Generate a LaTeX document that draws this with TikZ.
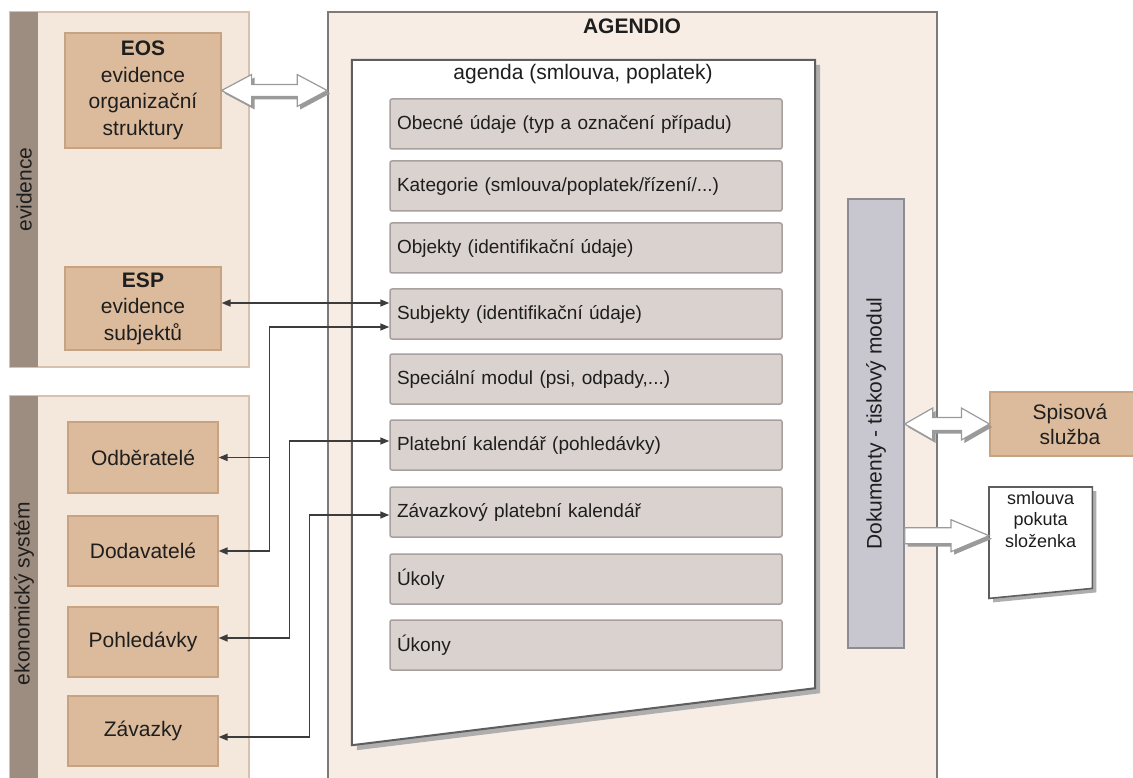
\documentclass[tikz,border=0pt]{standalone}
\usepackage{fontspec}
\setmainfont{Liberation Sans}
\usetikzlibrary{arrows.meta,calc}
\definecolor{panelbg}{HTML}{F4E8DD}
\definecolor{panelbd}{HTML}{D6C2AE}
\definecolor{stripc}{HTML}{9D8D80}
\definecolor{tanc}{HTML}{DCBB9C}
\definecolor{tanbd}{HTML}{C8A381}
\definecolor{agbg}{HTML}{F7EDE4}
\definecolor{agbd}{HTML}{7E7A78}
\definecolor{rowbg}{HTML}{DAD2CE}
\definecolor{rowbd}{HTML}{A8A09E}
\definecolor{barbg}{HTML}{C8C6CF}
\definecolor{barbd}{HTML}{8E8A92}
\definecolor{lnc}{HTML}{3C3C3C}
\definecolor{txt}{HTML}{1E1E1E}
\definecolor{docbd}{HTML}{5E5E5E}
\definecolor{shadowc}{HTML}{9A9A9A}
\definecolor{hollowbd}{HTML}{9A9A9A}
\newcommand\blockdbl[5]{% from, to, head length, head half, shaft half
  \fill[shadowc,transform canvas={xshift=3pt,yshift=-3pt}] (#1) -- ++(#3,-#4) -- ++(0,#4-#5) -- ($(#2)+(-#3,-#5)$) -- ++(0,#5-#4) -- (#2) -- ++(-#3,#4) -- ++(0,#5-#4) -- ($(#1)+(#3,#5)$) -- ++(0,#4-#5) -- cycle;
  \draw[hollow] (#1) -- ++(#3,-#4) -- ++(0,#4-#5) -- ($(#2)+(-#3,-#5)$) -- ++(0,#5-#4) -- (#2) -- ++(-#3,#4) -- ++(0,#5-#4) -- ($(#1)+(#3,#5)$) -- ++(0,#4-#5) -- cycle;}
\newcommand\blocksgl[5]{%
  \fill[shadowc,transform canvas={xshift=3pt,yshift=-3pt}] ($(#1)+(0,-#5)$) -- ($(#2)+(-#3,-#5)$) -- ++(0,#5-#4) -- (#2) -- ++(-#3,#4) -- ++(0,#5-#4) -- ($(#1)+(0,#5)$) -- cycle;
  \draw[hollow] ($(#1)+(0,-#5)$) -- ($(#2)+(-#3,-#5)$) -- ++(0,#5-#4) -- (#2) -- ++(-#3,#4) -- ++(0,#5-#4) -- ($(#1)+(0,#5)$) -- cycle;}
\begin{document}
\begin{tikzpicture}[x=1pt,y=-1pt,
  panel/.style={draw=panelbd,fill=panelbg,line width=1.2pt,minimum width=239pt,inner sep=0pt},
  stripbox/.style={fill=stripc,minimum width=28pt,inner sep=0pt,text=txt,font=\fontsize{21}{25}\selectfont},
  tanbox/.style={draw=tanbd,fill=tanc,line width=1.2pt,text=txt,align=center,inner sep=0pt,font=\fontsize{21}{26.5}\selectfont},
  rowbox/.style={draw=rowbd,fill=rowbg,line width=1.5pt,rounded corners=2pt,minimum width=392pt,minimum height=50pt,text width=378pt,align=left,inner xsep=7pt,text=txt,font=\fontsize{19}{22}\selectfont},
  conn/.style={draw=lnc,line width=1.5pt,arrows={-}},
  tipc/.tip={Triangle[length=9pt,width=7pt]},
  hollow/.style={draw=hollowbd,fill=white,line width=1.2pt,line join=miter}]
\useasboundingbox (0,0) rectangle (1133,778);
\fill[white] (0,0) rectangle (1133,778);

% evidence panel
\node[panel,minimum height=355pt] (evpanel) at (129.5,189.5) {};
\node[stripbox,minimum height=355pt] (evstrip) at (24,189.5) {\rotatebox{90}{evidence}};
\node[tanbox,minimum width=156pt,minimum height=115pt] (eos) at (143,90.5) {\textbf{EOS}\\evidence\\organizační\\struktury};
\node[tanbox,minimum width=156pt,minimum height=83pt] (esp) at (143,308.5) {\textbf{ESP}\\evidence\\subjektů};

% ekonomicky system panel
\node[panel,minimum height=395pt] (ekpanel) at (129.5,593.5) {};
\node[stripbox,minimum height=395pt] (ekstrip) at (24,593.5) {\rotatebox{90}{ekonomický systém}};
\node[tanbox,minimum width=150pt,minimum height=71pt] (odb) at (143,457.5) {Odběratelé};
\node[tanbox,minimum width=150pt,minimum height=70pt] (dod) at (143,551) {Dodavatelé};
\node[tanbox,minimum width=150pt,minimum height=70pt] (poh) at (143,642) {Pohledávky};
\node[tanbox,minimum width=150pt,minimum height=70pt] (zav) at (143,731) {Závazky};

% AGENDIO frame
\node[draw=agbd,fill=agbg,line width=1.6pt,minimum width=609pt,minimum height=780pt,inner sep=0pt] (agendio) at (632.5,402) {};
\node[text=txt,font=\fontsize{21}{25}\selectfont\bfseries] (agtitle) at (632,26) {AGENDIO};

% agenda document
\node[minimum width=463pt,minimum height=685pt,inner sep=0pt] (agenda) at (583.5,402.5) {};
\fill[shadowc!80,transform canvas={xshift=5pt,yshift=-5pt}] (agenda.north west) -- (agenda.north east) -- ($(agenda.south east)+(0,-57)$) -- (agenda.south west) -- cycle;
\draw[docbd,fill=white,line width=2pt] (agenda.north west) -- (agenda.north east) -- ($(agenda.south east)+(0,-57)$) -- (agenda.south west) -- cycle;
\node[text=txt,font=\fontsize{21}{25}\selectfont] (agsub) at (583,74) {agenda (smlouva, poplatek)};

\node[rowbox] (r1) at (586,124) {Obecné údaje (typ a označení případu)};
\node[rowbox] (r2) at (586,186) {Kategorie (smlouva/poplatek/řízení/...)};
\node[rowbox] (r3) at (586,248) {Objekty (identifikační údaje)};
\node[rowbox] (r4) at (586,314) {Subjekty (identifikační údaje)};
\node[rowbox] (r5) at (586,379) {Speciální modul (psi, odpady,...)};
\node[rowbox] (r6) at (586,445) {Platební kalendář (pohledávky)};
\node[rowbox] (r7) at (586,512) {Závazkový platební kalendář};
\node[rowbox] (r8) at (586,579) {Úkoly};
\node[rowbox] (r9) at (586,645) {Úkony};

% Dokumenty bar
\node[draw=barbd,fill=barbg,line width=1.4pt,minimum width=56pt,minimum height=449pt,inner sep=0pt,text=txt,font=\fontsize{21}{25}\selectfont] (dok) at (876,423.5) {\rotatebox{90}{Dokumenty - tiskový modul}};

% Spisova sluzba
\node[tanbox,minimum width=160pt,minimum height=64pt,font=\fontsize{21}{25}\selectfont] (spis) at (1070,424) {Spisová\\služba};

% small document
\node[minimum width=103pt,minimum height=111pt,inner sep=0pt,anchor=north west] (smdoc) at (989,487) {};
\fill[shadowc!80,transform canvas={xshift=4pt,yshift=-4pt}] (smdoc.north west) -- (smdoc.north east) -- ($(smdoc.south east)+(0,-10)$) -- (smdoc.south west) -- cycle;
\draw[docbd,fill=white,line width=1.6pt] (smdoc.north west) -- (smdoc.north east) -- ($(smdoc.south east)+(0,-10)$) -- (smdoc.south west) -- cycle;
\node[text=txt,align=center,font=\fontsize{18}{21.5}\selectfont,anchor=north,inner sep=0pt] (smtext) at ($(smdoc.north)+(0,4)$) {smlouva\\pokuta\\složenka};

% hollow block arrows
\coordinate (ha1) at (eos.east);
\coordinate (ha2) at (agendio.west |- ha1);
\blockdbl{ha1}{ha2}{30}{16}{6}
\coordinate (hb1) at (dok.east |- spis.west);
\coordinate (hb2) at (spis.west);
\blockdbl{hb1}{hb2}{28}{16}{6.5}
\coordinate (hc2) at ($(smdoc.west)+(0,-7)$);
\coordinate (hc1) at (dok.east |- hc2);
\blocksgl{hc1}{hc2}{38}{16}{8}

% line connectors
\coordinate (c0) at ($(esp.east)+(0,-5.5)$);
\draw[conn,tipc-tipc] (c0) -- (r4.west |- c0);
\coordinate (j1) at ($(r4.west)+(-120,13)$);
\draw[conn,tipc-tipc] (r4.west |- j1) -- (j1) |- (dod.east);
\draw[conn,-tipc] (j1 |- odb.east) -- (odb.east);
\coordinate (j2) at ($(r6.west)+(-100,-4)$);
\draw[conn,tipc-tipc] (r6.west |- j2) -- (j2) |- ($(poh.east)+(0,-4)$);
\coordinate (j3) at ($(r7.west)+(-80,3)$);
\draw[conn,tipc-tipc] (r7.west |- j3) -- (j3) |- ($(zav.east)+(0,6)$);
\end{tikzpicture}
\end{document}
